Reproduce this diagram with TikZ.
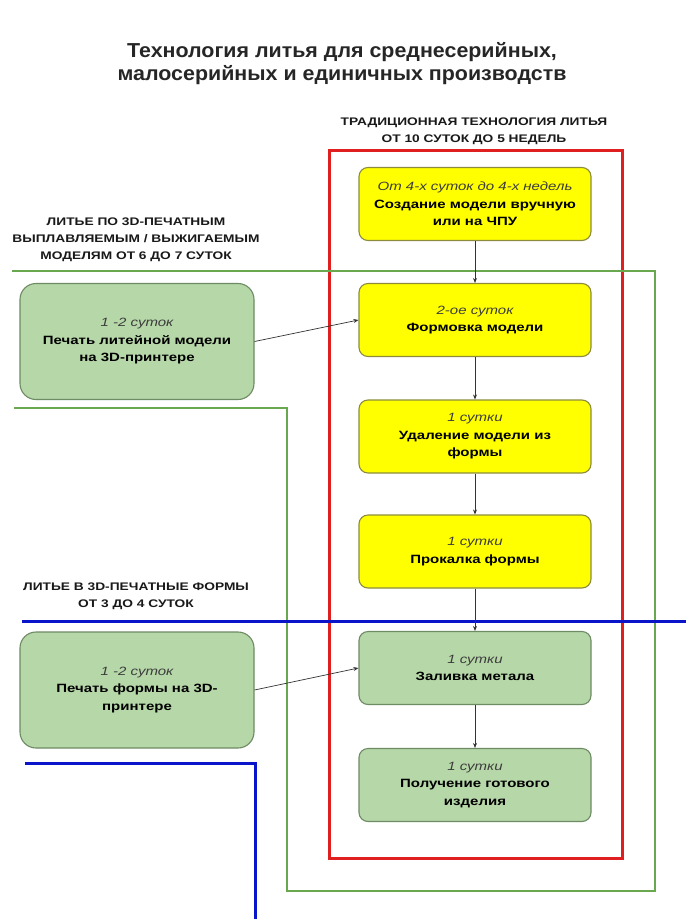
\documentclass[tikz,border=0pt]{standalone}
\usepackage{fontspec}
\setmainfont{Liberation Sans}
\newfontfamily\stretched[FakeStretch=1.25]{Liberation Sans}
\newfontfamily\titlefont[FakeStretch=1.06]{Liberation Sans}
\usetikzlibrary{arrows.meta}
\definecolor{ybox}{HTML}{FFFF00}
\definecolor{yborder}{HTML}{8C8C3C}
\definecolor{gbox}{HTML}{B6D7A8}
\definecolor{gborder}{HTML}{6E8B64}
\definecolor{gline}{HTML}{6AA84F}
\definecolor{rline}{HTML}{E02020}
\definecolor{bline}{HTML}{0A14C8}
\definecolor{itcol}{HTML}{3C3C3C}
\tikzset{
  stagebox/.style={draw=yborder, fill=ybox, rounded corners=9pt, line width=1.1pt,
    minimum width=232pt, minimum height=73pt, align=center, inner sep=0pt,
    font=\stretched\fontsize{12}{17.5}\selectfont\bfseries},
  greenbox/.style={stagebox, draw=gborder, fill=gbox},
  sidebox/.style={greenbox, rounded corners=16pt, minimum width=234pt, minimum height=116pt},
  flow/.style={draw=black!80, line width=0.7pt, -{Stealth[length=5pt,width=4pt]}},
  caption/.style={align=center, font=\stretched\fontsize{11}{17}\selectfont\bfseries, text=black!90},
}
\newcommand{\dur}[1]{{\stretched\mdseries\itshape\color{itcol}#1}}
\begin{document}
\begin{tikzpicture}[x=1pt,y=-1pt]
\useasboundingbox (0,0) rectangle (686,919);
\fill[white] (0,0) rectangle (686,919);

% title
\node[align=center, font=\titlefont\fontsize{20.2}{23}\selectfont\bfseries, text=black!85] (title) at (342,63.5)
  {Технология литья для среднесерийных,\\малосерийных и единичных производств};

% frames
\draw[rline, line width=3pt] (329,150) rectangle (622,858);
\draw[gline, line width=2pt] (12,271) -- (655,271) -- (655,891) -- (287,891) -- (287,408) -- (14,408);
\draw[bline, line width=3pt] (22,621) -- (686,621);
\draw[bline, line width=3pt] (25,763) -- (255,763) -- (255,919);

% captions
\node[caption] (captrad) at (474,131) {ТРАДИЦИОННАЯ ТЕХНОЛОГИЯ ЛИТЬЯ\\ОТ 10 СУТОК ДО 5 НЕДЕЛЬ};
\node[caption] (capmodel) at (136,239.5) {ЛИТЬЕ ПО 3D-ПЕЧАТНЫМ\\ВЫПЛАВЛЯЕМЫМ / ВЫЖИГАЕМЫМ\\МОДЕЛЯМ ОТ 6 ДО 7 СУТОК};
\node[caption] (capform) at (136,596.5) {ЛИТЬЕ В 3D-ПЕЧАТНЫЕ ФОРМЫ\\ОТ 3 ДО 4 СУТОК};

% main column
\node[stagebox] (s1) at (475,204) {\dur{От 4-х суток до 4-х недель}\\Создание модели вручную\\или на ЧПУ};
\node[stagebox] (s2) at (475,320) {\dur{2-ое суток}\\Формовка модели};
\node[stagebox] (s3) at (475,436.5) {\dur{1 сутки}\\Удаление модели из\\формы};
\node[stagebox] (s4) at (475,551.5) {\dur{1 сутки}\\Прокалка формы};
\node[greenbox] (s5) at (475,668) {\dur{1 сутки}\\Заливка метала};
\node[greenbox] (s6) at (475,785) {\dur{1 сутки}\\Получение готового\\изделия};

% side boxes
\node[sidebox] (p1) at (137,341.5) {\dur{1 -2 суток}\\Печать литейной модели\\на 3D-принтере};
\node[sidebox] (p2) at (137,690) {\dur{1 -2 суток}\\Печать формы на 3D-\\принтере};

% connectors
\draw[flow] (s1) -- (s2);
\draw[flow] (s2) -- (s3);
\draw[flow] (s3) -- (s4);
\draw[flow] (s4) -- (s5);
\draw[flow] (s5) -- (s6);
\draw[flow] (p1.east) -- (s2.west);
\draw[flow] (p2.east) -- (s5.west);
\end{tikzpicture}
\end{document}
